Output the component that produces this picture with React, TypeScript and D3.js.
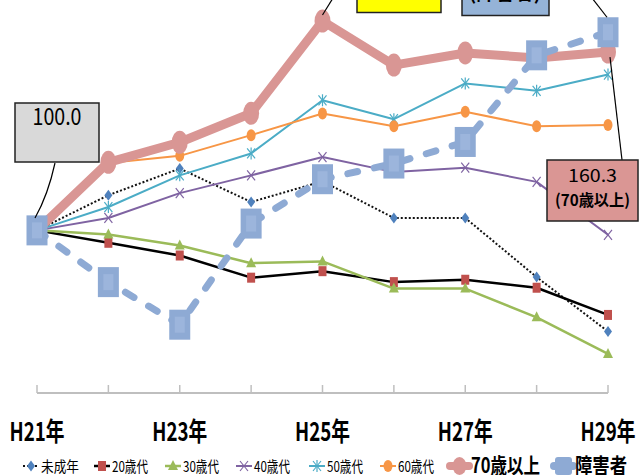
import React from "react";
import * as d3 from "d3";

// 年度（H21=100 とした指数）
const categories = ["H21年", "H22年", "H23年", "H24年", "H25年", "H26年", "H27年", "H28年", "H29年"];
const tickLabels = ["H21年", "H23年", "H25年", "H27年", "H29年"];

const minor = [100, 111.9, 120.9, 109.6, 116.6, 104.2, 104.2, 84.2, 65.8];
const age20 = [100, 95.8, 91.5, 84.0, 86.2, 82.5, 83.3, 80.6, 71.4];
const age30 = [100, 98.6, 94.9, 88.9, 89.5, 80.3, 80.3, 70.6, 58.2];
const age40 = [100, 104.2, 112.6, 118.6, 124.8, 119.7, 121.2, 116.4, 98.5];
const age50 = [100, 107.9, 118.6, 126.0, 144.0, 137.6, 149.7, 147.2, 152.7];
const age60 = [100, 122.8, 125.2, 132.2, 139.5, 135.2, 140.1, 135.2, 135.6];
const age70 = [100, 123.0, 129.8, 139.6, 170.8, 155.9, 160.0, 158.3, 160.3];
const disabled = [100, 82.5, 68.1, 102.3, 117.3, 122.6, 129.9, 159.2, 167.0];

const seriesNames = ["未成年", "20歳代", "30歳代", "40歳代", "50歳代", "60歳代", "70歳以上", "障害者"];

const W = 643, H = 475;
const FONT = "'Noto Sans CJK JP', 'Noto Sans', sans-serif";

const PINK = "#d99694";
const BLUE = "#8eaad4";

const x = d3.scalePoint<string>().domain(categories).range([37, 608]);
const y = d3.scaleLinear().domain([45, 175]).range([393, 8.6]);

const line = d3.line<number>()
  .x((d, i) => x(categories[i]) as number)
  .y(d => y(d));

// markers
function Marker({ kind, cx, cy }: { kind: string; cx: number; cy: number }) {
  switch (kind) {
    case "diamond":
      return <polygon points={`${cx},${cy - 5.5} ${cx + 4},${cy} ${cx},${cy + 5.5} ${cx - 4},${cy}`} fill="#4f81bd" />;
    case "square":
      return <rect x={cx - 4} y={cy - 5} width={8} height={10} fill="#c0504d" />;
    case "triangle":
      return <polygon points={`${cx},${cy - 6} ${cx + 5},${cy + 4} ${cx - 5},${cy + 4}`} fill="#9bbb59" />;
    case "x":
      return (
        <g stroke="#7f63a2" strokeWidth={1.2}>
          <line x1={cx - 4} y1={cy - 5} x2={cx + 4} y2={cy + 5} />
          <line x1={cx - 4} y1={cy + 5} x2={cx + 4} y2={cy - 5} />
        </g>
      );
    case "star":
      return (
        <g stroke="#4bacc6" strokeWidth={1.2}>
          <line x1={cx - 4} y1={cy - 5} x2={cx + 4} y2={cy + 5} />
          <line x1={cx - 4} y1={cy + 5} x2={cx + 4} y2={cy - 5} />
          <line x1={cx} y1={cy - 6} x2={cx} y2={cy + 6} />
        </g>
      );
    case "circle":
      return <ellipse cx={cx} cy={cy} rx={4.5} ry={6} fill="#f79646" />;
    case "bigcircle":
      return <ellipse cx={cx} cy={cy} rx={8} ry={11.5} fill={PINK} />;
    case "bigsquare":
      return (
        <g>
          <rect x={cx - 10.5} y={cy - 15} width={21} height={30} fill={BLUE} />
          <rect x={cx - 5} y={cy - 8} width={10} height={16} fill="#9cb5dc" />
        </g>
      );
  }
  return null;
}

const series = [
  { name: seriesNames[0], values: minor, stroke: "#111", width: 2, dash: "2 2", cap: "butt", marker: "diamond" },
  { name: seriesNames[1], values: age20, stroke: "#000", width: 2.5, dash: "", cap: "butt", marker: "square" },
  { name: seriesNames[2], values: age30, stroke: "#9bbb59", width: 2.5, dash: "", cap: "butt", marker: "triangle" },
  { name: seriesNames[3], values: age40, stroke: "#7f63a2", width: 2, dash: "", cap: "butt", marker: "x" },
  { name: seriesNames[4], values: age50, stroke: "#4bacc6", width: 2, dash: "", cap: "butt", marker: "star" },
  { name: seriesNames[5], values: age60, stroke: "#f79646", width: 2, dash: "", cap: "butt", marker: "circle" },
  { name: seriesNames[6], values: age70, stroke: PINK, width: 9, dash: "", cap: "round", marker: "bigcircle" },
  { name: seriesNames[7], values: disabled, stroke: BLUE, width: 7, dash: "10 17", cap: "round", marker: "bigsquare" },
];

// legend layout
const legendX = [23, 94, 165, 236, 309, 380, 450, 554];
const legendTextW = [38, 36, 36, 36, 36, 36, 69, 52];

export default function App() {
  const axisY = y(45);
  const legendY = 466;

  return (
    <svg width={W} height={H} style={{ position: "absolute", left: 0, top: 0, background: "#fff" }} fontFamily={FONT}>
      {/* axis */}
      <line x1={x(categories[0])} x2={x(categories[categories.length - 1])} y1={axisY} y2={axisY} stroke="#bfbfbf" strokeWidth={2} />
      {categories.map(c => (
        <line key={c} x1={x(c)} x2={x(c)} y1={axisY - 8} y2={axisY} stroke="#bfbfbf" strokeWidth={1.5} />
      ))}
      {tickLabels.map(t => (
        <text key={t} x={x(t)} y={441} textAnchor="middle" fontSize={26} fontWeight="bold" textLength={55} lengthAdjust="spacingAndGlyphs">{t}</text>
      ))}

      {/* series */}
      {series.map(s => (
        <g key={s.name}>
          <path d={line(s.values) || ""} fill="none" stroke={s.stroke} strokeWidth={s.width}
            strokeDasharray={s.dash || undefined} strokeLinecap={s.cap as any} strokeLinejoin="round" />
          {s.values.map((v, i) => (
            <Marker key={i} kind={s.marker} cx={x(categories[i]) as number} cy={y(v)} />
          ))}
        </g>
      ))}

      {/* callouts */}
      <path d={`M55,163 Q48,195 35,218`} fill="none" stroke="#000" strokeWidth={1.2} />
      <rect x={15} y={103} width={84} height={59} fill="#d9d9d9" stroke="#222" strokeWidth={1.5} />
      <text x={57} y={125} textAnchor="middle" fontSize={23} textLength={49} lengthAdjust="spacingAndGlyphs">100.0</text>

      <line x1={x(categories[4])} y1={y(age70[4]) - 6} x2={333} y2={-2} stroke="#000" strokeWidth={1.2} />
      <rect x={357} y={-3} width={84} height={15.5} fill="#ffff00" stroke="#222" strokeWidth={1.5} />
      <text x={381} y={-2} textAnchor="middle" fontSize={17} fill="#bbb" textLength={34} lengthAdjust="spacingAndGlyphs">170.8</text>

      <line x1={592} y1={-2} x2={607} y2={y(disabled[8]) - 15} stroke="#000" strokeWidth={1.2} />
      <rect x={462} y={-3} width={87} height={18.5} fill="#95b3d7" stroke="#222" strokeWidth={1.5} />
      <text x={505} y={-0.5} textAnchor="middle" fontSize={18} fontWeight="bold" textLength={72} lengthAdjust="spacingAndGlyphs">(障害者)</text>

      <line x1={610} y1={y(age70[8]) + 5} x2={622} y2={160} stroke="#000" strokeWidth={1.2} />
      <rect x={547} y={160} width={91} height={61} fill="#da9694" stroke="#222" strokeWidth={1.5} />
      <text x={592.5} y={182} textAnchor="middle" fontSize={18} textLength={49} lengthAdjust="spacingAndGlyphs">160.3</text>
      <text x={592.5} y={206} textAnchor="middle" fontSize={16} fontWeight="bold" textLength={75} lengthAdjust="spacingAndGlyphs">(70歳以上)</text>

      {/* legend */}
      {series.map((s, i) => {
        const lx = legendX[i];
        const big = i >= 6;
        const symW = big ? 19 : 16;
        return (
          <g key={s.name}>
            <line x1={lx} x2={lx + symW} y1={legendY} y2={legendY} stroke={s.stroke}
              strokeWidth={big ? 8 : s.width} strokeDasharray={s.dash && !big ? s.dash : undefined} strokeLinecap={big ? "round" : "butt"} />
            {big
              ? (i === 6
                ? <ellipse cx={lx + symW / 2} cy={legendY} rx={7} ry={9} fill={PINK} />
                : <rect x={lx + 1} y={legendY - 9} width={symW - 2} height={18} rx={3} fill={BLUE} />)
              : <Marker kind={s.marker} cx={lx + symW / 2} cy={legendY} />}
            <text x={lx + symW + 2} y={legendY + (big ? 7 : 5.5)} fontSize={big ? 21 : 15} fontWeight={big ? "bold" : "normal"}
              textLength={legendTextW[i]} lengthAdjust="spacingAndGlyphs">{s.name}</text>
          </g>
        );
      })}
    </svg>
  );
}
